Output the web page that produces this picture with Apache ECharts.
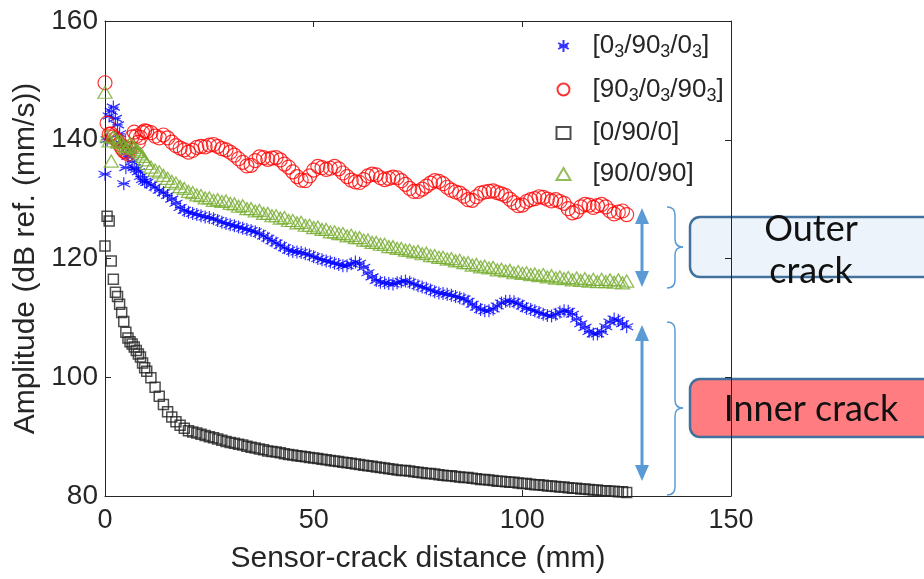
<!DOCTYPE html>
<html>
<head>
<meta charset="utf-8">
<script src="https://cdn.jsdelivr.net/npm/echarts@6/dist/echarts.min.js"></script>
<style>html,body{margin:0;padding:0;background:#fff;}#chart{width:924px;height:579px;}</style>
</head>
<body>
<div id="chart"></div>
<script>
// Sensor-crack distance (mm)
var distance = [0,0.5,1,1.5,2,2.5,3,3.5,4,4.5,5,5.5,6,6.5,7,7.5,8,8.5,9,9.5,10,
  11,12,13,14,15,16,17,18,19,20,21,22,23,24,25,26,27,28,29,30,
  31,32,33,34,35,36,37,38,39,40,41,42,43,44,45,46,47,48,49,50,
  51,52,53,54,55,56,57,58,59,60,61,62,63,64,65,66,67,68,69,70,
  71,72,73,74,75,76,77,78,79,80,81,82,83,84,85,86,87,88,89,90,
  91,92,93,94,95,96,97,98,99,100,101,102,103,104,105,106,107,108,109,110,
  111,112,113,114,115,116,117,118,119,120,121,122,123,124,125];

// [0_3/90_3/0_3]
var ampBlue = [134.2,140.0,144.0,144.8,145.5,143.6,142.5,141.0,139.3,132.6,135.3,137.2,138.3,136.3,135.3,135.0,134.6,133.8,133.3,133.0,132.8,
  132.4,132.0,131.5,131.1,130.6,130.0,129.3,128.6,128.1,127.8,
  127.6,127.4,127.2,127.0,126.9,126.7,126.4,126.1,125.9,125.7,
  125.5,125.3,125.1,124.9,124.7,124.5,124.2,123.8,123.4,123.0,
  122.6,122.2,121.8,121.4,121.2,121.1,121.0,120.8,120.6,120.3,
  120.0,119.8,119.6,119.4,119.2,119.0,118.8,118.8,119.1,119.4,
  119.2,118.5,117.6,116.9,116.3,116.0,115.9,115.8,115.7,115.9,
  116.1,116.2,116.0,115.7,115.4,115.2,115.0,114.7,114.4,114.2,
  114.1,114.0,113.8,113.6,113.4,113.2,112.8,112.3,111.8,111.4,
  111.2,111.2,111.5,112.0,112.5,112.8,112.8,112.7,112.4,112.0,
  111.6,111.4,111.2,110.9,110.6,110.4,110.3,110.6,111.0,111.2,
  111.1,110.6,109.8,109.0,108.4,107.7,107.3,107.3,107.7,108.5,
  109.3,109.8,109.6,109.0,108.5];

// [90_3/0_3/90_3]
var ampRed = [149.6,142.8,140.9,141.0,140.5,140.2,139.8,139.2,138.6,138.1,137.9,137.6,138.5,140.5,141.3,140.6,139.6,140.4,141.2,141.5,141.4,
  141.2,140.6,140.3,140.8,140.3,139.6,139.0,138.6,138.3,137.9,
  138.2,138.7,138.9,138.8,139.1,139.2,138.9,138.5,138.3,137.9,
  137.4,136.8,136.2,135.6,135.7,136.5,137.1,137.0,136.7,136.9,
  137.0,136.6,135.9,135.4,134.6,133.8,133.2,133.1,133.9,134.9,
  135.5,135.3,135.0,135.2,135.5,135.1,134.4,133.8,133.2,132.9,
  132.8,133.3,133.9,134.2,134.1,133.6,133.3,133.5,133.7,133.6,
  133.1,132.5,131.8,131.3,131.3,131.7,132.2,132.7,133.1,133.0,
  132.6,132.0,131.5,131.2,131.0,130.5,129.9,129.8,130.4,131.0,
  131.2,131.3,131.4,131.1,130.9,130.6,130.0,129.4,128.9,129.0,
  129.6,129.9,130.1,130.4,130.3,130.0,129.7,129.9,129.6,129.3,
  128.4,127.7,127.9,128.7,129.1,129.0,128.6,128.9,129.1,128.7,
  128.0,127.5,127.8,128.0,127.4];

// [0/90/0]
var ampBlack = [122.1,127.1,126.3,119.6,116.5,114.3,113.6,112.3,110.9,109.4,107.6,106.6,106.0,105.6,105.1,104.5,103.9,103.4,102.4,101.6,101.0,
  99.9,98.3,96.8,95.4,94.2,93.3,92.5,91.9,91.4,91.0,
  90.8,90.6,90.4,90.2,90.0,89.8,89.6,89.4,89.2,89.0,
  88.9,88.7,88.6,88.4,88.2,88.1,87.9,87.8,87.6,87.5,
  87.4,87.3,87.1,87.0,86.9,86.8,86.7,86.6,86.5,86.4,
  86.3,86.2,86.1,86.0,85.9,85.8,85.7,85.6,85.5,85.4,
  85.3,85.2,85.1,85.0,84.9,84.8,84.7,84.6,84.5,84.4,
  84.3,84.3,84.2,84.1,84.0,83.9,83.8,83.8,83.7,83.6,
  83.5,83.4,83.4,83.3,83.2,83.1,83.1,83.0,82.9,82.8,
  82.8,82.7,82.6,82.5,82.5,82.4,82.3,82.3,82.2,82.1,
  82.1,82.0,81.9,81.9,81.8,81.7,81.7,81.6,81.5,81.5,
  81.4,81.3,81.3,81.2,81.2,81.1,81.0,81.0,80.9,80.9,
  80.8,80.8,80.7,80.7,80.6];

// [90/0/90]
var ampGreen = [148.0,140.6,139.8,136.4,140.5,140.3,139.6,139.9,139.5,139.0,138.6,138.9,139.4,139.1,138.7,138.3,138.0,137.6,137.2,136.6,136.0,
  135.4,134.9,134.6,134.0,133.5,133.0,132.7,132.1,131.8,131.3,
  131.1,130.7,130.6,130.2,130.2,129.8,129.9,129.6,129.7,129.3,
  129.2,128.8,128.9,128.4,128.4,128.0,128.1,127.6,127.6,127.2,
  127.2,126.8,126.9,126.4,126.4,126.0,126.1,125.6,125.6,125.2,
  125.3,124.9,124.9,124.5,124.5,124.2,124.2,123.8,123.9,123.5,
  123.5,123.1,123.1,122.7,122.7,122.4,122.4,122.0,122.0,121.7,
  121.7,121.4,121.4,121.1,121.2,120.8,120.9,120.5,120.5,120.2,
  120.2,119.9,120.0,119.6,119.7,119.3,119.3,118.9,119.0,118.6,
  118.7,118.4,118.5,118.1,118.2,117.9,118.0,117.6,117.8,117.5,
  117.6,117.3,117.4,117.1,117.3,116.9,117.1,116.7,116.9,116.6,
  116.8,116.4,116.7,116.3,116.6,116.2,116.5,116.1,116.5,116.1,
  116.4,116.0,116.4,115.9,116.2];

var seriesNames = ['[0_3/90_3/0_3]','[90_3/0_3/90_3]','[0/90/0]','[90/0/90]'];
var xTicks = [0, 50, 100, 150];
var yTicks = [80, 100, 120, 140, 160];

function pairs(ys){ return ys.map(function(v,i){ return [distance[i], v]; }); }

var FONT = 'Liberation Sans';
var AX = '#262626';
var BR = '#5b9bd5';
var asterisk = 'path://M0,-10L0,10M-8.66,-5L8.66,5M-8.66,5L8.66,-5M-7,0L7,0';

function brace(x0, yTop, yBot, yMid) {
  var xm = x0 + 8, xt = x0 + 16, r = 8;
  var st = {stroke: BR, lineWidth: 1.5, fill: 'none'};
  return [
    {type: 'bezierCurve', shape: {x1: x0, y1: yTop, cpx1: xm, cpy1: yTop, x2: xm, y2: yTop + r}, style: st, z: 1},
    {type: 'line', shape: {x1: xm, y1: yTop + r, x2: xm, y2: yMid - r}, style: st, z: 1},
    {type: 'bezierCurve', shape: {x1: xm, y1: yMid - r, cpx1: xm, cpy1: yMid, x2: xt, y2: yMid}, style: st, z: 1},
    {type: 'bezierCurve', shape: {x1: xt, y1: yMid, cpx1: xm, cpy1: yMid, x2: xm, y2: yMid + r}, style: st, z: 1},
    {type: 'line', shape: {x1: xm, y1: yMid + r, x2: xm, y2: yBot - r}, style: st, z: 1},
    {type: 'bezierCurve', shape: {x1: xm, y1: yBot - r, cpx1: xm, cpy1: yBot, x2: x0, y2: yBot}, style: st, z: 1}
  ];
}
function arrow(x, yTop, yBot) {
  return [
    {type: 'line', shape: {x1: x, y1: yTop + 12, x2: x, y2: yBot - 12}, style: {stroke: BR, lineWidth: 3}, z: 1},
    {type: 'polygon', shape: {points: [[x, yTop], [x - 7, yTop + 16], [x + 7, yTop + 16]]}, style: {fill: BR}, z: 1},
    {type: 'polygon', shape: {points: [[x, yBot], [x - 7, yBot - 16], [x + 7, yBot - 16]]}, style: {fill: BR}, z: 1}
  ];
}

var BOXFONT = '36px Lato';
var graphics = [].concat(
  arrow(642, 208, 287),
  arrow(642, 325, 481),
  brace(667, 207, 288, 247),
  brace(667, 322, 495, 408),
  [
    {type: 'rect', shape: {x: 690, y: 217, width: 260, height: 60, r: 10}, style: {fill: '#edf3fa', stroke: '#41719c', lineWidth: 2.5}, z: 1},
    {type: 'rect', shape: {x: 690, y: 379, width: 260, height: 58, r: 10}, style: {fill: '#ff7c80', stroke: '#41719c', lineWidth: 2.5}, z: 1},
    {type: 'text', x: 811, y: 229, style: {text: 'Outer', font: BOXFONT, fill: '#111', align: 'center', verticalAlign: 'middle'}, z: 2},
    {type: 'text', x: 811, y: 271, style: {text: 'crack', font: BOXFONT, fill: '#111', align: 'center', verticalAlign: 'middle'}, z: 2},
    {type: 'text', x: 811, y: 409, style: {text: 'Inner crack', font: BOXFONT, fill: '#111', align: 'center', verticalAlign: 'middle'}, z: 2}
  ]
);

var chart = echarts.init(document.getElementById('chart'), null, {renderer:'canvas'});
chart.setOption({
  animation: false,
  backgroundColor: '#fff',
  grid: {left: 105, top: 21, right: 193, bottom: 81, show: false},
  xAxis: [{
    type: 'value', position: 'bottom', min: xTicks[0], max: xTicks[xTicks.length-1], interval: 50,
    name: 'Sensor-crack distance (mm)', nameLocation: 'middle', nameGap: 48,
    nameTextStyle: {fontFamily: FONT, fontSize: 30, color: AX},
    axisLine: {show: true, onZero: false, lineStyle: {color: AX, width: 1}},
    axisTick: {show: true, inside: true, length: 6, lineStyle: {color: AX}},
    axisLabel: {fontFamily: FONT, fontSize: 27, color: AX, margin: 11},
    splitLine: {show: false}
  }, {
    type: 'value', position: 'top', min: 0, max: 150, interval: 50,
    axisLine: {show: true, onZero: false, lineStyle: {color: AX, width: 1}},
    axisTick: {show: true, inside: true, length: 6, lineStyle: {color: AX}},
    axisLabel: {show: false}, splitLine: {show: false}
  }],
  yAxis: [{
    type: 'value', position: 'left', min: yTicks[0], max: yTicks[yTicks.length-1], interval: 20,
    name: 'Amplitude (dB ref. (mm/s))', nameLocation: 'middle', nameGap: 57,
    nameTextStyle: {fontFamily: FONT, fontSize: 30, color: AX},
    axisLine: {show: true, onZero: false, lineStyle: {color: AX, width: 1}},
    axisTick: {show: true, inside: true, length: 6, lineStyle: {color: AX}},
    axisLabel: {fontFamily: FONT, fontSize: 28, color: AX, margin: 7},
    splitLine: {show: false}
  }, {
    type: 'value', position: 'right', min: 80, max: 160, interval: 20, z: 20,
    axisLine: {show: true, onZero: false, lineStyle: {color: AX, width: 1}},
    axisTick: {show: true, inside: true, length: 6, lineStyle: {color: AX}},
    axisLabel: {show: false}, splitLine: {show: false}
  }],
  legend: {
    orient: 'vertical', left: 549, top: 28, itemGap: 15,
    itemWidth: 14, itemHeight: 12,
    data: seriesNames,
    formatter: function(n){
      return n.replace(/_3/g, '{s|3}');
    },
    textStyle: {
      fontFamily: FONT, fontSize: 26, color: AX, padding: [0,0,0,17],
      rich: {s: {fontFamily: FONT, fontSize: 18, color: AX, padding: [13,0,0,0]}}
    }
  },
  series: [{
    name: seriesNames[0], type: 'scatter', data: pairs(ampBlue),
    symbol: asterisk, symbolSize: 13,
    itemStyle: {color: 'none', borderColor: '#0000ff', borderWidth: 1.2}
  }, {
    name: seriesNames[1], type: 'scatter', data: pairs(ampRed),
    symbol: 'circle', symbolSize: 14,
    itemStyle: {color: 'none', borderColor: '#ff0000', borderWidth: 1.2}
  }, {
    name: seriesNames[2], type: 'scatter', data: pairs(ampBlack),
    symbol: 'rect', symbolSize: 10,
    itemStyle: {color: 'none', borderColor: '#222', borderWidth: 1.5}
  }, {
    name: seriesNames[3], type: 'scatter', data: pairs(ampGreen),
    symbol: 'triangle', symbolSize: [14, 12],
    itemStyle: {color: 'none', borderColor: '#77ac30', borderWidth: 1.3}
  }],
  graphic: graphics
});
</script>
</body>
</html>
